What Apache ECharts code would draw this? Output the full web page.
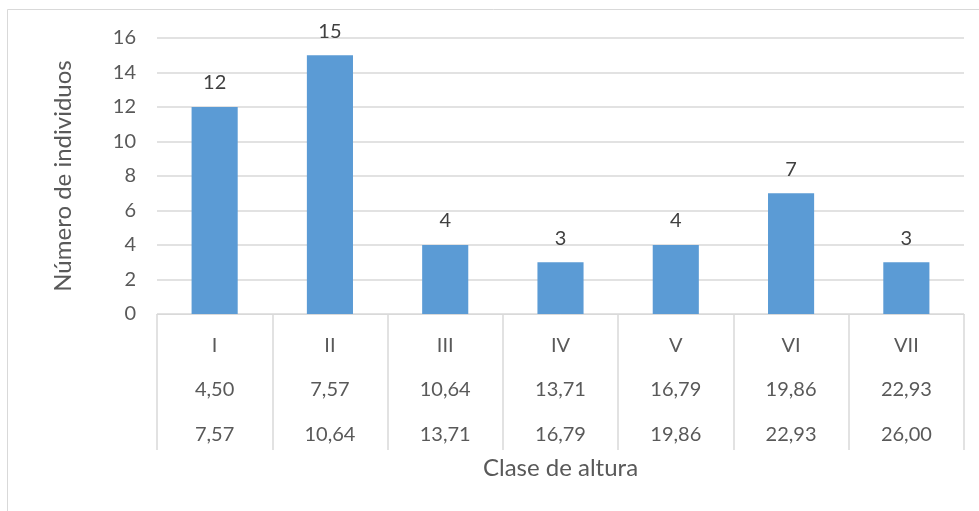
<!DOCTYPE html>
<html><head><meta charset="utf-8">
<script src="https://cdn.jsdelivr.net/npm/echarts@6/dist/echarts.min.js"></script>
<style>html,body{margin:0;padding:0;background:#fff}#c{width:979px;height:511px}</style>
</head><body><div id="c"></div>
<script>
const classes = ['I','II','III','IV','V','VI','VII'];
const lowerBounds = ['4,50','7,57','10,64','13,71','16,79','19,86','22,93'];
const upperBounds = ['7,57','10,64','13,71','16,79','19,86','22,93','26,00'];
const counts = [12, 15, 4, 3, 4, 7, 3];
const yTicks = {min: 0, max: 16, interval: 2};

const FONT = 'Lato';
const chart = echarts.init(document.getElementById('c'), null, {renderer: 'canvas'});
chart.setOption({
  animation: false,
  backgroundColor: '#fff',
  textStyle: {fontFamily: FONT},
  graphic: [{
    type: 'rect', shape: {x: 7.5, y: 9.5, width: 1000, height: 600},
    style: {fill: 'none', stroke: '#d9d9d9', lineWidth: 1}, silent: true, z: -1
  }],
  grid: {left: 157, right: 15, top: 38, bottom: 197, containLabel: false},
  xAxis: {
    type: 'category',
    data: classes.map((c, i) => c + '|' + lowerBounds[i] + '|' + upperBounds[i]),
    name: 'Clase de altura',
    nameLocation: 'middle',
    nameGap: 142,
    nameTextStyle: {color: '#595959', fontSize: 24, fontFamily: FONT},
    axisLine: {lineStyle: {color: '#d9d9d9', width: 1}},
    axisTick: {show: true, interval: 0, length: 136, lineStyle: {color: '#d9d9d9', width: 1.5}},
    axisLabel: {
      interval: 0, margin: 9, color: '#595959', fontSize: 20, fontFamily: FONT,
      formatter: v => { const p = v.split('|'); return '{a|' + p[0] + '}\n{a|' + p[1] + '}\n{a|' + p[2] + '}'; },
      rich: {a: {lineHeight: 44.5, fontSize: 20, color: '#595959', fontFamily: FONT}}
    },
    splitLine: {show: false}
  },
  yAxis: {
    type: 'value', min: yTicks.min, max: yTicks.max, interval: yTicks.interval,
    name: 'Número de individuos',
    nameLocation: 'middle',
    nameGap: 82,
    nameRotate: 90,
    nameTextStyle: {color: '#595959', fontSize: 24, fontFamily: FONT},
    axisLine: {show: false}, axisTick: {show: false},
    axisLabel: {color: '#595959', fontSize: 20, margin: 21, fontFamily: FONT},
    splitLine: {lineStyle: {color: '#d9d9d9', width: 1.5}}
  },
  series: [{
    type: 'bar', data: counts, barWidth: '40%',
    itemStyle: {color: '#5b9bd5'},
    label: {show: true, position: 'top', distance: 14, color: '#404040', fontSize: 20, fontFamily: FONT}
  }]
});
</script></body></html>
